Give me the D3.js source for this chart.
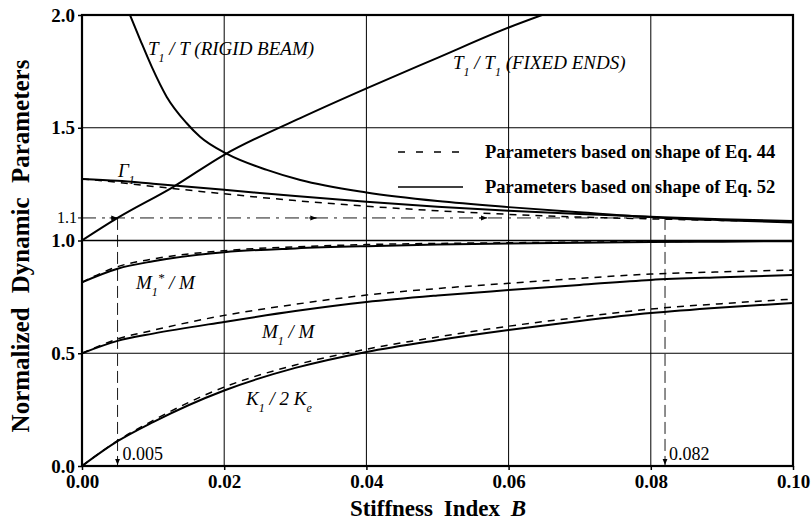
<!DOCTYPE html>
<html><head><meta charset="utf-8">
<script src="https://cdn.jsdelivr.net/npm/d3@7"></script>
<style>
body{margin:0;background:#fff;}
</style></head>
<body><svg id="c" width="812" height="527"></svg>
<script>
// ---- data ----
const xTicks = [0, 0.02, 0.04, 0.06, 0.08, 0.10];
const xTickLabels = ["0.00","0.02","0.04","0.06","0.08","0.10"];
const yTicks = [0, 0.5, 1.0, 1.5, 2.0];
const yTickLabels = ["0.0","0.5","1.0","1.5","2.0"];

const bGrid = [0, 0.005, 0.01, 0.02, 0.03, 0.04, 0.05, 0.06, 0.07, 0.08, 0.09, 0.10];
const gammaEq52 = [1.273, 1.265, 1.252, 1.225, 1.197, 1.172, 1.150, 1.132, 1.117, 1.105, 1.094, 1.086];
const gammaEq44 = [1.273, 1.258, 1.240, 1.207, 1.177, 1.152, 1.132, 1.116, 1.104, 1.096, 1.089, 1.083];
const mStarEq52 = [0.815, 0.875, 0.908, 0.948, 0.965, 0.975, 0.982, 0.987, 0.990, 0.993, 0.995, 0.997];
const mStarEq44 = [0.815, 0.884, 0.918, 0.955, 0.972, 0.982, 0.987, 0.990, 0.993, 0.995, 0.997, 0.998];
const mEq52 = [0.500, 0.555, 0.587, 0.639, 0.687, 0.727, 0.756, 0.780, 0.803, 0.825, 0.837, 0.847];
const mEq44 = [0.500, 0.563, 0.602, 0.668, 0.717, 0.758, 0.787, 0.810, 0.832, 0.851, 0.861, 0.869];
const kEq52 = [0.000, 0.110, 0.195, 0.335, 0.435, 0.506, 0.558, 0.603, 0.643, 0.678, 0.703, 0.723];
const kEq44 = [0.000, 0.112, 0.202, 0.350, 0.448, 0.518, 0.572, 0.620, 0.660, 0.696, 0.720, 0.740];

const rigidB = [0.00675, 0.0082, 0.0098, 0.0119, 0.0147, 0.0166, 0.0204, 0.026, 0.0307, 0.04, 0.05, 0.06, 0.07, 0.082, 0.09, 0.10];
const rigidT = [2.00, 1.889, 1.771, 1.638, 1.521, 1.46, 1.384, 1.313, 1.268, 1.213, 1.175, 1.148, 1.125, 1.10, 1.09, 1.08];
const fixedB = [0, 0.005, 0.0128, 0.02, 0.0307, 0.0401, 0.05, 0.0602, 0.0647];
const fixedT = [1.0, 1.1, 1.237, 1.38, 1.543, 1.676, 1.81, 1.947, 2.0];

const refLevel = 1.1;
const refB = [0.005, 0.082];
const legendLabels = ["Parameters based on shape of Eq. 44", "Parameters based on shape of Eq. 52"];

// ---- chart ----
const FONT = "'Liberation Serif','Times New Roman',Times,'DejaVu Serif',serif";
const svg = d3.select("#c").attr("font-family", FONT);
const L = 82, R = 793, T = 15, B = 466;
const x = d3.scaleLinear().domain([0, 0.1]).range([L, R]);
const y = d3.scaleLinear().domain([0, 2]).range([B, T]);

const defs = svg.append("defs");
defs.append("marker").attr("id","arr").attr("viewBox","0 0 10 10").attr("refX",10).attr("refY",5)
  .attr("markerWidth",7).attr("markerHeight",7).attr("orient","auto")
  .append("path").attr("d","M0,1L10,5L0,9Z").attr("fill","#000");

// grid
const g = svg.append("g");
g.selectAll(".vg").data(xTicks.slice(1,-1)).join("line")
  .attr("x1",d=>x(d)).attr("x2",d=>x(d)).attr("y1",T).attr("y2",B)
  .attr("stroke","#000").attr("stroke-width",1);
g.selectAll(".hg").data(yTicks.slice(1,-1)).join("line")
  .attr("x1",L).attr("x2",R).attr("y1",d=>y(d)).attr("y2",d=>y(d))
  .attr("stroke","#000").attr("stroke-width",d=>d===1?1.6:1);

// reference lines
svg.append("line").attr("x1",x(0)).attr("x2",x(refB[1])).attr("y1",y(refLevel)).attr("y2",y(refLevel))
  .attr("stroke","#000").attr("stroke-width",0.9).attr("stroke-dasharray","14,6,3,6");
[0.005, 0.033, 0.057].forEach(b=>{
  svg.append("line").attr("x1",x(b)-8).attr("x2",x(b)).attr("y1",y(refLevel)).attr("y2",y(refLevel))
    .attr("stroke","#000").attr("stroke-width",0.9).attr("marker-end","url(#arr)");
});
refB.forEach(b=>{
  svg.append("line").attr("x1",x(b)).attr("x2",x(b)).attr("y1",y(refLevel)).attr("y2",y(0)-1)
    .attr("stroke","#000").attr("stroke-width",0.9).attr("stroke-dasharray","12,5")
    .attr("marker-end","url(#arr)");
});
svg.append("text").attr("x",x(0.005)+5).attr("y",y(0)-6).attr("font-size",18).text("0.005");
svg.append("text").attr("x",x(0.082)+4).attr("y",y(0)-6).attr("font-size",18).text("0.082");

// curves
const line = d3.line().x(d=>x(d[0])).y(d=>y(d[1])).curve(d3.curveMonotoneX);
defs.append("clipPath").attr("id","clip").append("rect")
  .attr("x",L).attr("y",T).attr("width",R-L).attr("height",B-T);
const cg = svg.append("g").attr("clip-path","url(#clip)");
function draw(xs, ys, dashed){
  cg.append("path").datum(xs.map((b,i)=>[b,ys[i]])).attr("d",line)
    .attr("fill","none").attr("stroke","#000")
    .attr("stroke-width",dashed?1.5:2)
    .attr("stroke-dasharray",dashed?"7,6":null);
}
[[gammaEq44,true],[gammaEq52,false],[mStarEq44,true],[mStarEq52,false],
 [mEq44,true],[mEq52,false],[kEq44,true],[kEq52,false]].forEach(([s,d])=>draw(bGrid,s,d));
draw(rigidB, rigidT, false);
draw(fixedB, fixedT, false);

// frame
svg.append("rect").attr("x",L).attr("y",T).attr("width",R-L).attr("height",B-T)
  .attr("fill","none").attr("stroke","#000").attr("stroke-width",2.2);

// axes
const xa = svg.append("g").attr("transform",`translate(0,${B})`)
  .call(d3.axisBottom(x).tickValues(xTicks).tickFormat((d,i)=>xTickLabels[i]).tickSize(4).tickPadding(5));
const ya = svg.append("g").attr("transform",`translate(${L},0)`)
  .call(d3.axisLeft(y).tickValues(yTicks).tickFormat((d,i)=>yTickLabels[i]).tickSize(4).tickPadding(3));
[xa,ya].forEach(a=>{
  a.attr("font-family", FONT);
  a.select(".domain").remove();
  a.selectAll("line").attr("stroke","#000").attr("stroke-width",1.5);
  a.selectAll("text").attr("font-size",19).attr("font-weight","bold").attr("font-family",FONT).attr("fill","#000");
});
svg.append("line").attr("x1",L-4).attr("x2",L).attr("y1",y(refLevel)).attr("y2",y(refLevel)).attr("stroke","#000");
svg.append("text").attr("x",L-5).attr("y",y(refLevel)+5).attr("text-anchor","end").attr("font-size",16).text("1.1");

// axis titles
svg.append("text").attr("x",438).attr("y",516).attr("text-anchor","middle")
  .attr("font-size",23).attr("font-weight","bold").attr("word-spacing","5")
  .html('Stiffness Index <tspan font-style="italic">B</tspan>');
svg.append("text").attr("transform",`translate(29,246) rotate(-90)`).attr("text-anchor","middle")
  .attr("font-size",25).attr("font-weight","bold").attr("word-spacing","8")
  .text("Normalized Dynamic Parameters");

// curve labels
function lab(xp, yp, html, fs){
  svg.append("text").attr("x",xp).attr("y",yp).attr("font-size",fs||19).attr("font-style","italic").html(html);
}
const sub = s => `<tspan baseline-shift="sub" font-size="12">${s}</tspan>`;
lab(148, 55, `T${sub("1")} / T (RIGID BEAM)`);
lab(453, 69, `T${sub("1")} / T${sub("1")} (FIXED ENDS)`);
lab(118, 177, `Γ${sub("1")}`);
lab(136, 289, `M${sub("1")}<tspan baseline-shift="super" font-size="13">*</tspan> / M`);
lab(262, 338, `M${sub("1")} / M`);
lab(246, 405, `K${sub("1")} / 2 K${sub("e")}`);

// legend
const lg = svg.append("g");
lg.append("line").attr("x1",398).attr("x2",463).attr("y1",152).attr("y2",152)
  .attr("stroke","#000").attr("stroke-width",1.5).attr("stroke-dasharray","7,11");
lg.append("line").attr("x1",398).attr("x2",463).attr("y1",187).attr("y2",187)
  .attr("stroke","#000").attr("stroke-width",1.5);
lg.append("text").attr("x",485).attr("y",158).attr("font-size",18.5).attr("font-weight","bold").text(legendLabels[0]);
lg.append("text").attr("x",485).attr("y",193).attr("font-size",18.5).attr("font-weight","bold").text(legendLabels[1]);
</script></body></html>
